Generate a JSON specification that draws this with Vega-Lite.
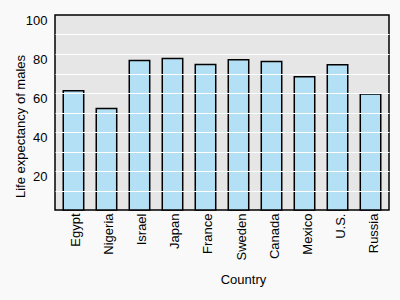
{
  "$schema": "https://vega.github.io/schema/vega-lite/v6.json",
  "autosize": "none",
  "width": 334,
  "height": 195,
  "padding": {"left": 55, "top": 15, "right": 11, "bottom": 90},
  "background": "#f9f9f9",
  "config": {
    "font": "Liberation Sans",
    "view": {"fill": "#e6e6e6", "stroke": "#000000", "strokeWidth": 1.5},
    "axis": {"labelFont": "Liberation Sans", "titleFont": "Liberation Sans", "labelFontSize": 13, "titleFontSize": 13, "labelColor": "#000000", "titleColor": "#000000", "titleFontWeight": "normal"}
  },
  "data": {
    "values": [
      {"Country": "Egypt", "Life": 61.2},
      {"Country": "Nigeria", "Life": 52.0},
      {"Country": "Israel", "Life": 76.7},
      {"Country": "Japan", "Life": 77.7},
      {"Country": "France", "Life": 74.6},
      {"Country": "Sweden", "Life": 77.0},
      {"Country": "Canada", "Life": 76.2},
      {"Country": "Mexico", "Life": 68.3},
      {"Country": "U.S.", "Life": 74.5},
      {"Country": "Russia", "Life": 59.5}
    ]
  },
  "mark": {"type": "bar", "fill": "#b3e0f5", "stroke": "#000000", "strokeWidth": 1.5},
  "encoding": {
    "x": {
      "field": "Country", "type": "nominal", "sort": null,
      "scale": {"paddingInner": 0.38, "paddingOuter": 0.25},
      "axis": {"title": "Country", "labelAngle": -90, "labelPadding": 3, "labelOffset": 3, "ticks": false, "domain": false, "titleX": 188, "titleY": 69, "titleBaseline": "middle", "titleAnchor": null}
    },
    "y": {
      "field": "Life", "type": "quantitative",
      "scale": {"domain": [0, 100], "nice": false},
      "axis": {
        "title": "Life expectancy of males",
        "values": [10, 20, 30, 40, 50, 60, 70, 80, 90, 100],
        "labelExpr": "datum.value % 20 == 0 ? datum.label : ''",
        "labelOffset": 5,
        "labelPadding": 8,
        "ticks": false, "domain": false,
        "grid": true, "gridColor": "#ffffff", "gridWidth": 1.2,
        "gridOpacity": {"condition": {"test": "datum.value == 100", "value": 0}, "value": 1},
        "zindex": 1,
        "titleX": -35, "titleY": 111, "titleAngle": -90, "titleAlign": "center", "titleBaseline": "middle"
      }
    }
  }
}
